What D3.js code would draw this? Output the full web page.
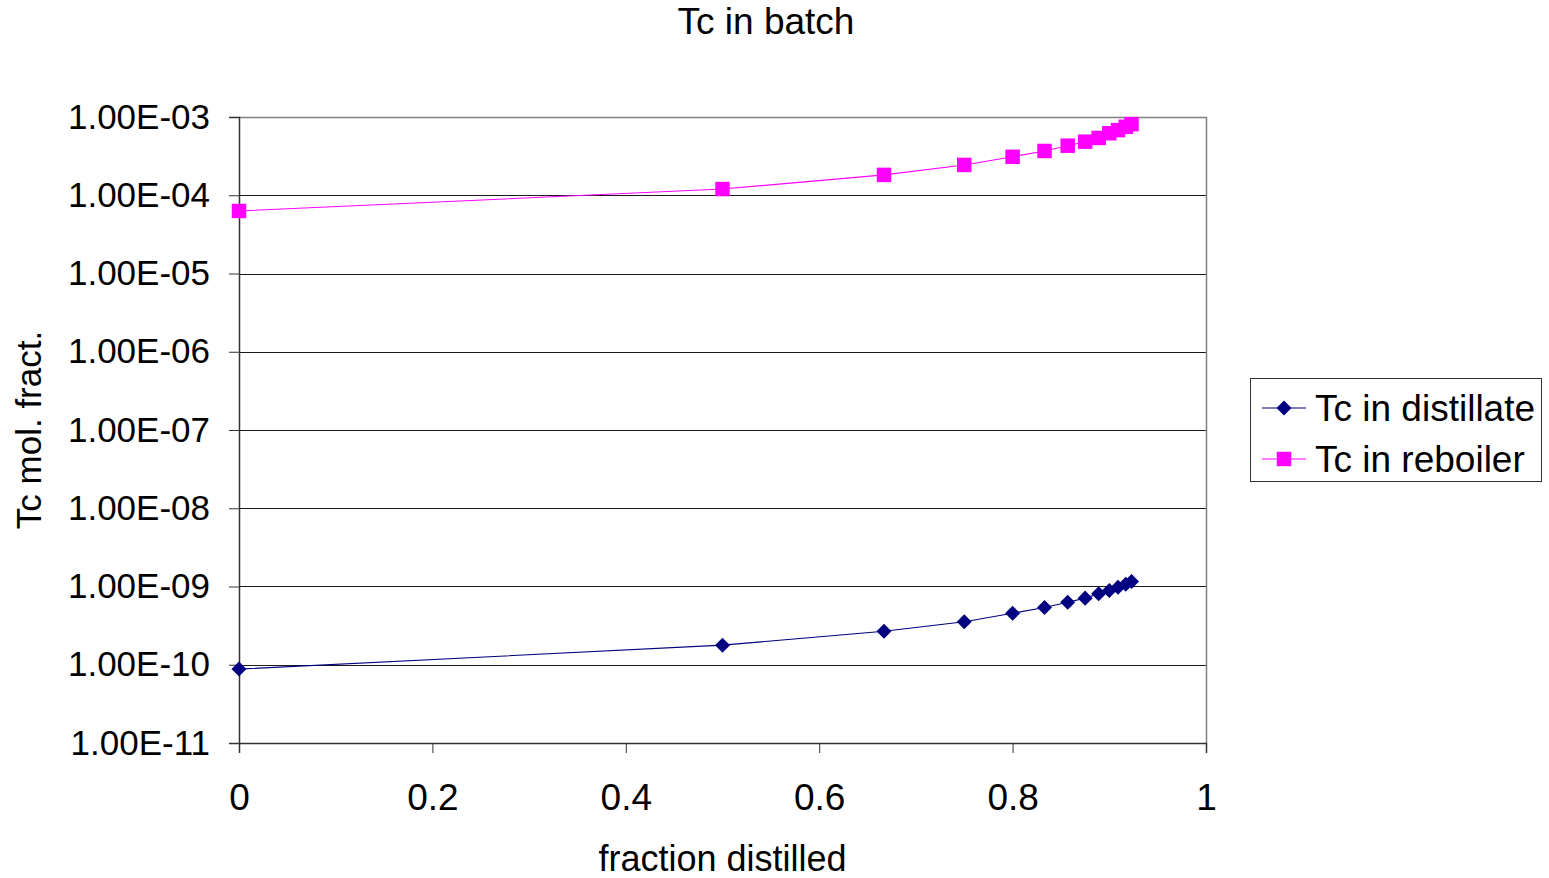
<!DOCTYPE html>
<html>
<head>
<meta charset="utf-8">
<script src="https://cdn.jsdelivr.net/npm/d3@7"></script>
<style>
  html, body { margin: 0; padding: 0; background: #fff; }
  svg { display: block; font-family: Arial, "Liberation Sans", sans-serif; }
</style>
</head>
<body>
<svg id="chart" width="1549" height="878"></svg>
<script>
// Fraction of the batch already distilled
const fraction = [0, 0.5, 0.667, 0.75, 0.8, 0.833, 0.857, 0.875, 0.889, 0.9, 0.909, 0.917, 0.923];
// Tc mole fraction in the distillate
const distillate = [8.8e-11, 1.78e-10, 2.68e-10, 3.55e-10, 4.55e-10, 5.4e-10, 6.3e-10, 7.1e-10, 8.1e-10, 8.9e-10, 9.8e-10, 1.07e-9, 1.16e-9];
// Tc mole fraction remaining in the reboiler
const reboiler = [6.3e-5, 1.2e-4, 1.82e-4, 2.44e-4, 3.1e-4, 3.68e-4, 4.3e-4, 4.84e-4, 5.4e-4, 6.2e-4, 6.8e-4, 7.5e-4, 8.1e-4];

const xTickValues = [0, 0.2, 0.4, 0.6, 0.8, 1];
const xTickLabels = ["0", "0.2", "0.4", "0.6", "0.8", "1"];
const yTickValues = [1e-11, 1e-10, 1e-9, 1e-8, 1e-7, 1e-6, 1e-5, 1e-4, 1e-3];
const yTickLabels = ["1.00E-11", "1.00E-10", "1.00E-09", "1.00E-08", "1.00E-07", "1.00E-06", "1.00E-05", "1.00E-04", "1.00E-03"];

const seriesNames = ["Tc in distillate", "Tc in reboiler"];
const seriesColors = ["#000080", "#FF00FF"];

const svg = d3.select("#chart");
const FS_YTICK = 35;
const FS_XTICK = 37;
const FS_TITLE = 37;
const FS_LABEL = 36;
const FS_LEGEND = 37;
const plot = { left: 239, right: 1206, top: 117, bottom: 743 };

const x = d3.scaleLinear().domain([0, 1]).range([plot.left, plot.right]);
const y = d3.scaleLog().domain([1e-11, 1e-3]).range([plot.bottom, plot.top]);

// Horizontal gridlines at each decade
svg.append("g")
  .selectAll("line")
  .data(yTickValues.slice(1, -1))
  .join("line")
  .attr("x1", plot.left).attr("x2", plot.right)
  .attr("y1", d => Math.round(y(d)) + 0.5).attr("y2", d => Math.round(y(d)) + 0.5)
  .attr("stroke", "#1a1a1a").attr("stroke-width", 1);

// Plot area border (top and right)
svg.append("path")
  .attr("d", `M${plot.left},${plot.top + 0.5}H${plot.right + 0.5}V${plot.bottom}`)
  .attr("fill", "none").attr("stroke", "#808080").attr("stroke-width", 1.5);

// Y axis
const yAxis = svg.append("g")
  .attr("transform", `translate(${plot.left},0)`)
  .call(d3.axisLeft(y)
    .tickValues(yTickValues)
    .tickFormat((d, i) => yTickLabels[i])
    .tickSizeOuter(0)
    .tickSize(10)
    .tickPadding(19));
yAxis.select(".domain").attr("stroke", "#333").attr("stroke-width", 1.5);
yAxis.selectAll(".tick line").attr("stroke", "#333");
yAxis.selectAll(".tick text")
  .attr("font-size", FS_YTICK).attr("fill", "#000")
  .attr("font-family", "Arial, 'Liberation Sans', sans-serif");

// X axis
const xAxis = svg.append("g")
  .attr("transform", `translate(0,${plot.bottom})`)
  .call(d3.axisBottom(x)
    .tickValues(xTickValues)
    .tickFormat((d, i) => xTickLabels[i])
    .tickSizeOuter(0)
    .tickSize(10)
    .tickPadding(31));
xAxis.select(".domain").attr("stroke", "#333").attr("stroke-width", 1.5);
xAxis.selectAll(".tick line").attr("stroke", "#333");
xAxis.selectAll(".tick text")
  .attr("font-size", FS_XTICK).attr("fill", "#000")
  .attr("font-family", "Arial, 'Liberation Sans', sans-serif");

// Series lines and markers
const series = [distillate, reboiler];
const line = d3.line().x((d, i) => x(fraction[i])).y(d => y(d));
const diamond = d3.symbol().type(d3.symbolDiamond2).size(144);
const square = d3.symbol().type(d3.symbolSquare).size(210);
const symbols = [diamond, square];

series.forEach((vals, s) => {
  const g = svg.append("g");
  g.append("path")
    .datum(vals)
    .attr("d", line)
    .attr("fill", "none")
    .attr("stroke", seriesColors[s])
    .attr("stroke-width", 1.1);
  g.selectAll("path.marker")
    .data(vals)
    .join("path")
    .attr("class", "marker")
    .attr("d", symbols[s])
    .attr("transform", (d, i) => `translate(${x(fraction[i])},${y(d)})`)
    .attr("fill", seriesColors[s]);
});

// Title
svg.append("text")
  .attr("x", 766).attr("y", 34)
  .attr("text-anchor", "middle")
  .attr("font-size", FS_TITLE)
  .text("Tc in batch");

// Axis titles
svg.append("text")
  .attr("x", (plot.left + plot.right) / 2).attr("y", 871)
  .attr("text-anchor", "middle")
  .attr("font-size", FS_LABEL)
  .text("fraction distilled");

svg.append("text")
  .attr("transform", `translate(41,${(plot.top + plot.bottom) / 2}) rotate(-90)`)
  .attr("text-anchor", "middle")
  .attr("font-size", 35)
  .text("Tc mol. fract.");

// Legend
const legend = svg.append("g");
legend.append("rect")
  .attr("x", 1250.5).attr("y", 378.5)
  .attr("width", 291).attr("height", 103)
  .attr("fill", "#fff").attr("stroke", "#333").attr("stroke-width", 1);

const legendRows = [408, 459];
seriesNames.forEach((name, s) => {
  const ly = legendRows[s];
  legend.append("line")
    .attr("x1", 1262).attr("x2", 1306)
    .attr("y1", ly).attr("y2", ly)
    .attr("stroke", seriesColors[s]).attr("stroke-width", 1.1);
  legend.append("path")
    .attr("d", symbols[s])
    .attr("transform", `translate(1284,${ly})`)
    .attr("fill", seriesColors[s]);
  legend.append("text")
    .attr("x", 1315).attr("y", ly)
    .attr("dy", "0.35em")
    .attr("font-size", FS_LEGEND)
    .text(name);
});
</script>
</body>
</html>
